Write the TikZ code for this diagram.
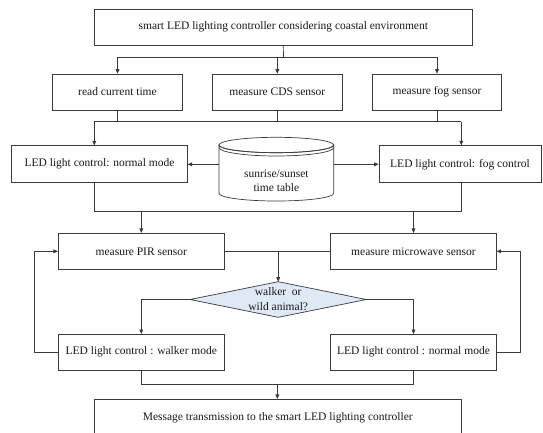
\documentclass[tikz,border=0pt]{standalone}
\usepackage{fontspec}
\setmainfont{Liberation Serif}
\usetikzlibrary{arrows.meta,calc}
\definecolor{ln}{HTML}{3A3A3A}
\definecolor{dfill}{HTML}{DFE8F5}
\begin{document}
\begin{tikzpicture}[x=1pt,y=-1pt,
  every node/.style={font=\fontsize{11.5}{14.5}\selectfont, text=black!90},
  box/.style={draw=ln, line width=0.7pt, fill=white, inner sep=0pt, align=center},
  ln/.style={draw=ln, line width=0.7pt},
  arr/.style={ln, -{Triangle[length=4.5pt,width=3.8pt]}}]
\useasboundingbox (0,0) rectangle (543,432);
\clip (0,0) rectangle (543,432);
\fill[white] (0,0) rectangle (543,432);
% boxes
\node[box, minimum width=378, minimum height=35.7] (top) at (283.3,27.2) {smart LED lighting controller considering coastal environment};
\node[box, minimum width=130.4, minimum height=36] (read) at (117.5,92) {read current time};
\node[box, minimum width=130, minimum height=36] (cds) at (277.3,92) {measure CDS sensor};
\node[box, minimum width=129.4, minimum height=36] (fogs) at (437,92) {measure fog sensor};
\node[box, minimum width=175.6, minimum height=37] (normal) at (99.5,164.2) {LED light control: normal mode};
\node[box, minimum width=162, minimum height=37] (fogc) at (460,164.2) {LED light control: fog control};
% cylinder
\filldraw[ln, fill=white] (219,145) -- (219,193.3) arc[start angle=180, end angle=0, x radius=57.35, y radius=7.7] -- (333.7,145) arc[start angle=0, end angle=180, x radius=57.35, y radius=7.7] -- cycle;
\draw[ln] (276.35,145) ellipse[x radius=57.35, y radius=7.7];
\draw[ln] (219,147.5) arc[start angle=180, end angle=0, x radius=57.35, y radius=8.5];
\node[align=center, inner sep=0pt] (db) at (276.35,180.8) {sunrise/sunset\\time table};
\coordinate (dbL) at (219,164.3);
\coordinate (dbR) at (333.7,164.3);
\node[box, minimum width=166, minimum height=36] (pir) at (141.3,251.3) {measure PIR sensor};
\node[box, minimum width=165.6, minimum height=36] (mw) at (413.5,251.3) {measure microwave sensor};
% diamond
\coordinate (dT) at (278.2,281.7);
\coordinate (dB) at (278.2,317.3);
\coordinate (dL) at (190,299.5);
\coordinate (dR) at (366.3,299.5);
\filldraw[ln, fill=dfill] (dT) -- (dR) -- (dB) -- (dL) -- cycle;
\node[align=center, inner sep=0pt, font=\fontsize{11.5}{14.3}\selectfont] (dq) at (278.2,299.2) {walker\ \ or\\wild animal?};
\node[box, minimum width=166, minimum height=35.7] (walker) at (141.3,352.2) {LED light control : walker mode};
\node[box, minimum width=165.6, minimum height=35.7] (nm2) at (413.5,352.2) {LED light control : normal mode};
\node[box, minimum width=367, minimum height=36] (msg) at (277.8,417.3) {Message transmission to the smart LED lighting controller};
% connectors: top -> row 2
\coordinate (j1) at (283.5,57.3);
\draw[ln] (top.south) -- (j1);
\draw[arr] (j1) -| (read.north);
\draw[arr] (j1) -| (fogs.north);
\draw[arr] (j1 -| cds.north) -- (cds.north);
% row 2 -> row 3
\coordinate (j2L) at (94.3,121.7);
\coordinate (j2R) at (461.3,121.7);
\draw[ln] (read.south) -- (read.south |- j2L);
\draw[ln] (cds.south) -- (cds.south |- j2L);
\draw[ln] (fogs.south) -- (fogs.south |- j2L);
\draw[ln] (j2L) -- (j2R);
\draw[arr] (j2L) -- (j2L |- normal.north);
\draw[arr] (j2R) -- (j2R |- fogc.north);
% database arrows
\draw[arr] (dbL) -- (dbL -| normal.east);
\draw[arr] (dbR) -- (dbR -| fogc.west);
% row 3 -> row 4
\coordinate (j3L) at (94.3,211.7);
\coordinate (j3R) at (461.3,211.7);
\draw[ln] (j3L |- normal.south) -- (j3L) -- (j3R) -- (j3R |- fogc.south);
\draw[arr] (pir.north |- j3L) -- (pir.north);
\draw[arr] (mw.north |- j3L) -- (mw.north);
% sensors -> decision
\draw[ln] (pir.east) -- (mw.west);
\draw[arr] (dT |- pir.east) -- (dT);
\draw[arr] (dL) -| (walker.north);
\draw[arr] (dR) -| (nm2.north);
% feedback loops
\draw[arr] (walker.west) -- ++(-24,0) |- (pir.west);
\draw[arr] (nm2.east) -- ++(24,0) |- (mw.east);
% to message
\coordinate (j5) at (277.3,384);
\draw[ln] (walker.south) -- (walker.south |- j5) -- (j5 -| nm2.south) -- (nm2.south);
\draw[arr] (j5) -- (j5 |- msg.north);
\end{tikzpicture}
\end{document}
